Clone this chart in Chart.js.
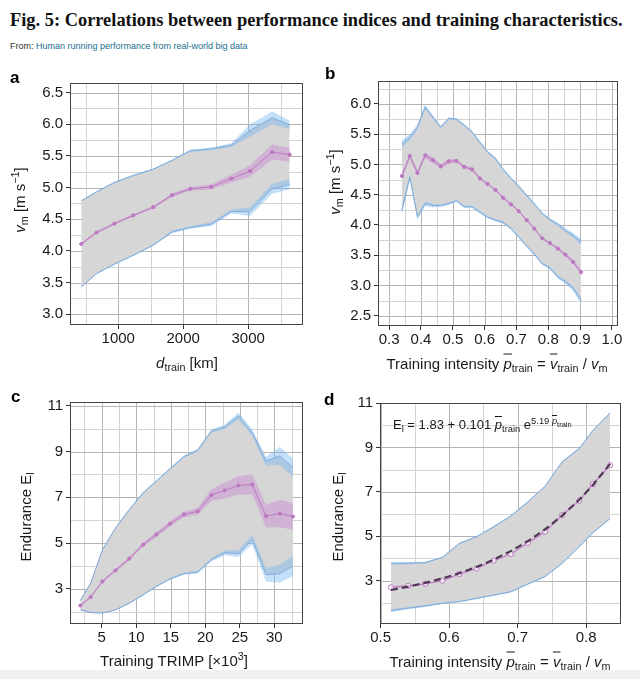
<!DOCTYPE html>
<html>
<head>
<meta charset="utf-8">
<script src="https://cdn.jsdelivr.net/npm/chart.js@4/dist/chart.umd.min.js"></script>
<style>
  body { margin: 0; width: 640px; height: 679px; background: #fff; position: relative; overflow: hidden;
         font-family: "Liberation Sans", Arial, sans-serif; color: #1a1a1a; }
  canvas { position: absolute; }
  .fig-title { position: absolute; left: 10px; top: 10px; font: bold 18.4px "Liberation Serif", serif; color: #111; white-space: nowrap; }
  .from { position: absolute; left: 10px; top: 41px; font-size: 9px; color: #333; white-space: nowrap; }
  .from span { color: #1d6f8f; }
  .lbl { position: absolute; white-space: nowrap; font-size: 15px; transform: translate(-50%, -50%); }
  .rot { transform: translate(-50%, -50%) rotate(-90deg); }
  .letter { position: absolute; font: bold 17px "Liberation Sans", Arial, sans-serif; color: #000; }
  .note { position: absolute; left: 393px; top: 417px; font-size: 13px; white-space: nowrap; }
  sub { font-size: 0.72em; vertical-align: -0.35em; line-height: 0; }
  sup { font-size: 0.72em; vertical-align: 0.55em; line-height: 0; }
  .ov { text-decoration: overline; font-style: italic; }
  .strip { position: absolute; left: 0; top: 670px; width: 640px; height: 9px; background: #f1f1f1; }
</style>
</head>
<body>
<div class="fig-title">Fig. 5: Correlations between performance indices and training characteristics.</div>
<div class="from">From: <span>Human running performance from real-world big data</span></div>

<canvas id="chartA" width="320" height="320" style="left:0;top:60px"></canvas>
<canvas id="chartB" width="320" height="320" style="left:320px;top:60px"></canvas>
<canvas id="chartC" width="320" height="290" style="left:0;top:380px"></canvas>
<canvas id="chartD" width="320" height="290" style="left:320px;top:380px"></canvas>

<div class="letter" style="left:10px;top:68px">a</div>
<div class="letter" style="left:325px;top:64px">b</div>
<div class="letter" style="left:11px;top:387px">c</div>
<div class="letter" style="left:324px;top:390px">d</div>

<div class="lbl rot" style="left:19px;top:200px"><i>v</i><sub>m</sub> [m s<sup>−1</sup>]</div>
<div class="lbl" style="left:187px;top:362px"><i>d</i><sub>train</sub> [km]</div>
<div class="lbl rot" style="left:334px;top:182px"><i>v</i><sub>m</sub> [m s<sup>−1</sup>]</div>
<div class="lbl" style="left:497px;top:363px">Training intensity <span class="ov">p</span><sub>train</sub> = <span class="ov">v</span><sub>train</sub> / <i>v</i><sub>m</sub></div>
<div class="lbl rot" style="left:25px;top:517px">Endurance E<sub>l</sub></div>
<div class="lbl" style="left:174px;top:660px">Training TRIMP [×10<sup>3</sup>]</div>
<div class="lbl rot" style="left:337px;top:517px">Endurance E<sub>l</sub></div>
<div class="lbl" style="left:500px;top:661px">Training intensity <span class="ov">p</span><sub>train</sub> = <span class="ov">v</span><sub>train</sub> / <i>v</i><sub>m</sub></div>
<div class="note">E<sub>l</sub> = 1.83 + 0.101 <span class="ov">p</span><sub>train</sub> e<sup>5.19 <span class="ov">p</span><sub style="font-size:0.8em">train</sub></sup></div>
<div class="strip"></div>

<script>
// Panel a: v_m vs training distance
const aX = [430, 665, 940, 1230, 1540, 1830, 2110, 2430, 2740, 3030, 3370, 3640];
const aMean = [4.11, 4.29, 4.43, 4.56, 4.69, 4.88, 4.98, 5.01, 5.14, 5.26, 5.56, 5.52];
const aMeanErr = [0.02, 0.02, 0.02, 0.02, 0.02, 0.03, 0.03, 0.04, 0.06, 0.09, 0.12, 0.11];
const aUpper = [4.79, 4.93, 5.08, 5.19, 5.29, 5.43, 5.58, 5.61, 5.67, 5.9, 6.1, 5.99];
const aUpperErr = [0.01, 0.01, 0.01, 0.01, 0.01, 0.01, 0.02, 0.02, 0.03, 0.1, 0.1, 0.07];
const aLower = [3.43, 3.64, 3.79, 3.93, 4.09, 4.3, 4.37, 4.42, 4.62, 4.62, 4.98, 5.05];
const aLowerErr = [0.01, 0.01, 0.01, 0.01, 0.01, 0.02, 0.02, 0.03, 0.03, 0.07, 0.08, 0.08];
const aXMajor = [1000, 2000, 3000];
const aXMinor = [500, 1500, 2500, 3500];
const aYMajor = [3.0, 3.5, 4.0, 4.5, 5.0, 5.5, 6.0, 6.5];
const aYMinor = [3.25, 3.75, 4.25, 4.75, 5.25, 5.75, 6.25];

// Panel b: v_m vs training intensity
const bX = [0.34, 0.365, 0.389, 0.413, 0.438, 0.462, 0.487, 0.511, 0.536, 0.56, 0.585, 0.609,
            0.634, 0.658, 0.683, 0.707, 0.732, 0.756, 0.781, 0.805, 0.83, 0.854, 0.878, 0.903];
const bMean = [4.81, 5.14, 4.86, 5.15, 5.07, 4.97, 5.05, 5.06, 4.96, 4.92, 4.77, 4.68,
               4.58, 4.45, 4.34, 4.23, 4.08, 3.94, 3.78, 3.7, 3.61, 3.51, 3.39, 3.22];
const bMeanErr = [0.05, 0.05, 0.05, 0.05, 0.05, 0.04, 0.04, 0.03, 0.03, 0.03, 0.02, 0.02,
                  0.02, 0.02, 0.02, 0.02, 0.02, 0.02, 0.02, 0.02, 0.02, 0.03, 0.03, 0.04];
const bUpper = [5.34, 5.45, 5.62, 5.95, 5.78, 5.62, 5.76, 5.75, 5.65, 5.54, 5.37, 5.21,
                5.1, 4.92, 4.77, 4.64, 4.49, 4.35, 4.19, 4.09, 4.01, 3.91, 3.83, 3.72];
const bUpperErr = [0.06, 0.05, 0.04, 0.04, 0.03, 0.02, 0.02, 0.02, 0.02, 0.02, 0.02, 0.02,
                   0.02, 0.02, 0.02, 0.02, 0.02, 0.02, 0.02, 0.02, 0.03, 0.03, 0.04, 0.05];
const bLower = [4.24, 4.79, 4.13, 4.35, 4.32, 4.32, 4.35, 4.4, 4.3, 4.3, 4.21, 4.13,
                4.08, 4.04, 3.94, 3.8, 3.65, 3.52, 3.36, 3.29, 3.14, 3.06, 2.95, 2.75];
const bLowerErr = [0.06, 0.05, 0.04, 0.04, 0.03, 0.02, 0.02, 0.02, 0.02, 0.02, 0.02, 0.02,
                   0.02, 0.02, 0.02, 0.02, 0.02, 0.02, 0.02, 0.02, 0.03, 0.03, 0.04, 0.05];
const bXMajor = [0.3, 0.4, 0.5, 0.6, 0.7, 0.8, 0.9, 1.0];
const bXMinor = [0.35, 0.45, 0.55, 0.65, 0.75, 0.85, 0.95];
const bYMajor = [2.5, 3.0, 3.5, 4.0, 4.5, 5.0, 5.5, 6.0];
const bYMinor = [2.75, 3.25, 3.75, 4.25, 4.75, 5.25, 5.75, 6.25];

// Panel c: endurance vs TRIMP
const cX = [1.9, 3.4, 5.1, 7, 9, 11, 12.9, 14.9, 16.9, 18.9, 20.9, 22.8, 24.8, 26.8, 28.8, 30.8, 32.7];
const cMean = [2.27, 2.64, 3.32, 3.81, 4.32, 4.93, 5.37, 5.84, 6.25, 6.39, 7.1, 7.3, 7.52, 7.56, 6.18, 6.29, 6.16];
const cMeanErr = [0.05, 0.05, 0.06, 0.07, 0.08, 0.08, 0.1, 0.12, 0.12, 0.15, 0.25, 0.35, 0.4, 0.45, 0.5, 0.6, 0.58];
const cUpper = [2.49, 3.25, 4.71, 5.66, 6.47, 7.2, 7.71, 8.25, 8.78, 9.06, 9.9, 10.08, 10.56, 9.83, 8.59, 8.81, 8.3];
const cUpperErr = [0.03, 0.03, 0.03, 0.03, 0.03, 0.03, 0.03, 0.04, 0.05, 0.06, 0.08, 0.1, 0.15, 0.15, 0.2, 0.4, 0.4];
const cLower = [2.08, 1.96, 1.94, 2.08, 2.37, 2.74, 3.1, 3.43, 3.66, 3.73, 4.27, 4.57, 4.54, 5.15, 3.62, 3.66, 4.01];
const cLowerErr = [0.02, 0.02, 0.02, 0.02, 0.03, 0.03, 0.03, 0.04, 0.05, 0.06, 0.08, 0.1, 0.15, 0.2, 0.3, 0.4, 0.45];
const cXMajor = [5, 10, 15, 20, 25, 30];
const cXMinor = [2.5, 7.5, 12.5, 17.5, 22.5, 27.5, 32.5];
const cYMajor = [3, 5, 7, 9, 11];
const cYMinor = [2, 4, 6, 8, 10];

// Panel d: endurance vs training intensity, with fitted curve
const dX = [0.515, 0.54, 0.565, 0.59, 0.615, 0.64, 0.665, 0.69, 0.715, 0.74, 0.765, 0.79, 0.81, 0.835];
const dMean = [2.7, 2.77, 2.86, 3.0, 3.3, 3.55, 3.9, 4.2, 4.7, 5.2, 5.95, 6.6, 7.35, 8.2];
const dMeanErr = [0.05, 0.04, 0.04, 0.04, 0.04, 0.04, 0.04, 0.04, 0.05, 0.05, 0.06, 0.06, 0.07, 0.08];
const dFit = [2.58, 2.73, 2.9, 3.1, 3.34, 3.62, 3.95, 4.33, 4.78, 5.31, 5.93, 6.64, 7.31, 8.26];
const dUpper = [3.78, 3.79, 3.81, 4.05, 4.68, 4.98, 5.43, 5.91, 6.55, 7.25, 8.35, 8.95, 9.77, 10.55];
const dUpperErr = [0.06, 0.05, 0.04, 0.03, 0.03, 0.03, 0.03, 0.03, 0.03, 0.03, 0.03, 0.03, 0.03, 0.03];
const dLower = [1.65, 1.76, 1.86, 1.98, 2.06, 2.2, 2.35, 2.5, 2.85, 3.18, 3.78, 4.53, 5.16, 5.8];
const dLowerErr = [0.06, 0.05, 0.04, 0.03, 0.03, 0.03, 0.03, 0.03, 0.03, 0.03, 0.03, 0.03, 0.03, 0.03];
const dXMajor = [0.5, 0.6, 0.7, 0.8];
const dXMinor = [0.55, 0.65, 0.75];
const dYMajor = [3, 5, 7, 9, 11];
const dYMinor = [2, 4, 6, 8, 10];

// Colours
const EDGE = 'rgba(110,150,200,0.85)';
const EDGE_BAND = 'rgba(125,185,240,0.45)';
const GREY = '#d6d6d6';
const PINK = '#bd78c2';
const PINK_BAND = 'rgba(200,130,210,0.42)';
const GRID_MAJOR = '#b4b4b4';
const GRID_MINOR = '#d4d4d4';
const FONT = '"Liberation Sans", Arial, sans-serif';

Chart.defaults.animation = false;
Chart.defaults.font.family = FONT;
Chart.defaults.plugins.legend.display = false;
Chart.defaults.plugins.tooltip.enabled = false;
Chart.defaults.elements.point.radius = 0;
Chart.defaults.elements.line.tension = 0;

const pts = (xs, ys) => xs.map((x, i) => ({ x, y: ys[i] }));
const off = (ys, es, s) => ys.map((y, i) => y + s * es[i]);

// major + minor grid, drawn from the scales' own ticks before the data
const panelGrid = {
    id: 'panelGrid',
    beforeDatasetsDraw(chart, args, opts) {
        const { ctx, chartArea: a } = chart;
        ctx.save();
        ctx.lineWidth = 1;
        for (const id of ['x', 'y']) {
            const s = chart.scales[id];
            const major = opts[id] || [];
            s.ticks.forEach(t => {
                const px = Math.round(s.getPixelForValue(t.value)) + 0.5;
                ctx.strokeStyle = major.includes(t.value) ? GRID_MAJOR : GRID_MINOR;
                ctx.beginPath();
                if (id === 'x') { ctx.moveTo(px, a.top); ctx.lineTo(px, a.bottom); }
                else { ctx.moveTo(a.left, px); ctx.lineTo(a.right, px); }
                ctx.stroke();
            });
        }
        ctx.restore();
    },
    afterDraw(chart) {
        // panel border
        const { ctx, chartArea: a } = chart;
        ctx.save();
        ctx.strokeStyle = '#444';
        ctx.lineWidth = 1;
        ctx.strokeRect(a.left + 0.5, a.top + 0.5, a.right - a.left - 1, a.bottom - a.top - 1);
        ctx.restore();
    }
};

function axis(min, max, major, minor, fmt, isX, size) {
    const all = major.concat(minor).sort((p, q) => p - q);
    return {
        type: 'linear', min, max, bounds: 'data',
        afterBuildTicks: s => { s.ticks = all.map(v => ({ value: v })); },
        afterFit: s => { if (isX) s.height = size; else s.width = size; },
        grid: {
            drawOnChartArea: false,
            tickColor: c => major.includes(c.tick.value) ? '#333' : 'rgba(0,0,0,0)',
            tickLength: 4,
            lineWidth: 1
        },
        border: { display: false },
        ticks: {
            autoSkip: false, maxRotation: 0, padding: isX ? 1 : 3, color: '#1a1a1a',
            font: { size: 15, family: FONT },
            callback: v => major.includes(v) ? fmt(v) : ''
        }
    };
}

function datasets(p) {
    const sets = [
        // 0 lower edge of the grey spread band
        { data: pts(p.x, p.lower), borderColor: EDGE, borderWidth: 1, fill: false, order: 10 },
        // 1 upper edge, grey filled down to 0
        { data: pts(p.x, p.upper), borderColor: EDGE, borderWidth: 1, backgroundColor: GREY, fill: 0, order: 11 },
        // 2,3 confidence band of the upper edge
        { data: pts(p.x, off(p.upper, p.upperErr, -1)), borderWidth: 0, fill: false, order: 9 },
        { data: pts(p.x, off(p.upper, p.upperErr, 1)), borderWidth: 0, backgroundColor: EDGE_BAND, fill: 2, order: 8 },
        // 4,5 confidence band of the lower edge
        { data: pts(p.x, off(p.lower, p.lowerErr, -1)), borderWidth: 0, fill: false, order: 7 },
        { data: pts(p.x, off(p.lower, p.lowerErr, 1)), borderWidth: 0, backgroundColor: EDGE_BAND, fill: 4, order: 6 },
        // 6,7 band of the mean
        { data: pts(p.x, off(p.mean, p.meanErr, -1)), borderWidth: 0, fill: false, order: 5 },
        { data: pts(p.x, off(p.mean, p.meanErr, 1)), borderWidth: 0, backgroundColor: PINK_BAND, fill: 6, order: 4 },
        // 8 mean line
        {
            data: pts(p.x, p.mean), borderColor: PINK, borderWidth: 1, fill: false, order: 2,
            pointRadius: p.open ? 2.6 : 1.6, pointBorderWidth: 1, pointBorderColor: PINK,
            pointBackgroundColor: p.open ? 'rgba(255,255,255,0.7)' : PINK
        }
    ];
    if (p.fit) {
        sets.push({ data: pts(p.x, p.fit), borderColor: '#4e3853', borderWidth: 2.2, borderDash: [7, 4], fill: false, order: 1 });
    }
    return sets;
}

function panel(id, p, area, canvasTop, canvasLeft, canvasH) {
    return new Chart(document.getElementById(id), {
        type: 'line',
        data: { datasets: datasets(p) },
        options: {
            responsive: false,
            layout: {
                padding: {
                    left: 0,
                    top: area.top - canvasTop,
                    right: canvasLeft + 320 - area.right,
                    bottom: canvasTop + canvasH - area.bottom - 22
                }
            },
            plugins: { panelGrid: { x: p.xMajor, y: p.yMajor } },
            scales: {
                x: axis(p.xMin, p.xMax, p.xMajor, p.xMinor, p.xFmt, true, 22),
                y: axis(p.yMin, p.yMax, p.yMajor, p.yMinor, p.yFmt, false, area.left - canvasLeft)
            }
        },
        plugins: [panelGrid]
    });
}

const one = v => v.toFixed(1);
const plain = v => String(v);

panel('chartA', {
    x: aX, mean: aMean, meanErr: aMeanErr, upper: aUpper, upperErr: aUpperErr, lower: aLower, lowerErr: aLowerErr,
    xMin: 257, xMax: 3845, yMin: 2.83, yMax: 6.65,
    xMajor: aXMajor, xMinor: aXMinor, yMajor: aYMajor, yMinor: aYMinor, xFmt: plain, yFmt: one
}, { left: 70, top: 83, right: 303, bottom: 325 }, 60, 0, 320);

panel('chartB', {
    x: bX, mean: bMean, meanErr: bMeanErr, upper: bUpper, upperErr: bUpperErr, lower: bLower, lowerErr: bLowerErr,
    xMin: 0.265, xMax: 1.019, yMin: 2.33, yMax: 6.38,
    xMajor: bXMajor, xMinor: bXMinor, yMajor: bYMajor, yMinor: bYMinor, xFmt: one, yFmt: one
}, { left: 378, top: 81, right: 618, bottom: 326 }, 60, 320, 320);

panel('chartC', {
    x: cX, mean: cMean, meanErr: cMeanErr, upper: cUpper, upperErr: cUpperErr, lower: cLower, lowerErr: cLowerErr,
    xMin: 0.4, xMax: 34.16, yMin: 1.46, yMax: 11.17,
    xMajor: cXMajor, xMinor: cXMinor, yMajor: cYMajor, yMinor: cYMinor, xFmt: plain, yFmt: plain
}, { left: 70, top: 402, right: 303, bottom: 624 }, 380, 0, 290);

panel('chartD', {
    x: dX, mean: dMean, meanErr: dMeanErr, upper: dUpper, upperErr: dUpperErr, lower: dLower, lowerErr: dLowerErr,
    fit: dFit, open: true,
    xMin: 0.499, xMax: 0.851, yMin: 1.05, yMax: 11.0,
    xMajor: dXMajor, xMinor: dXMinor, yMajor: dYMajor, yMinor: dYMinor, xFmt: one, yFmt: plain
}, { left: 380, top: 403, right: 621, bottom: 624 }, 380, 320, 290);
</script>
</body>
</html>
